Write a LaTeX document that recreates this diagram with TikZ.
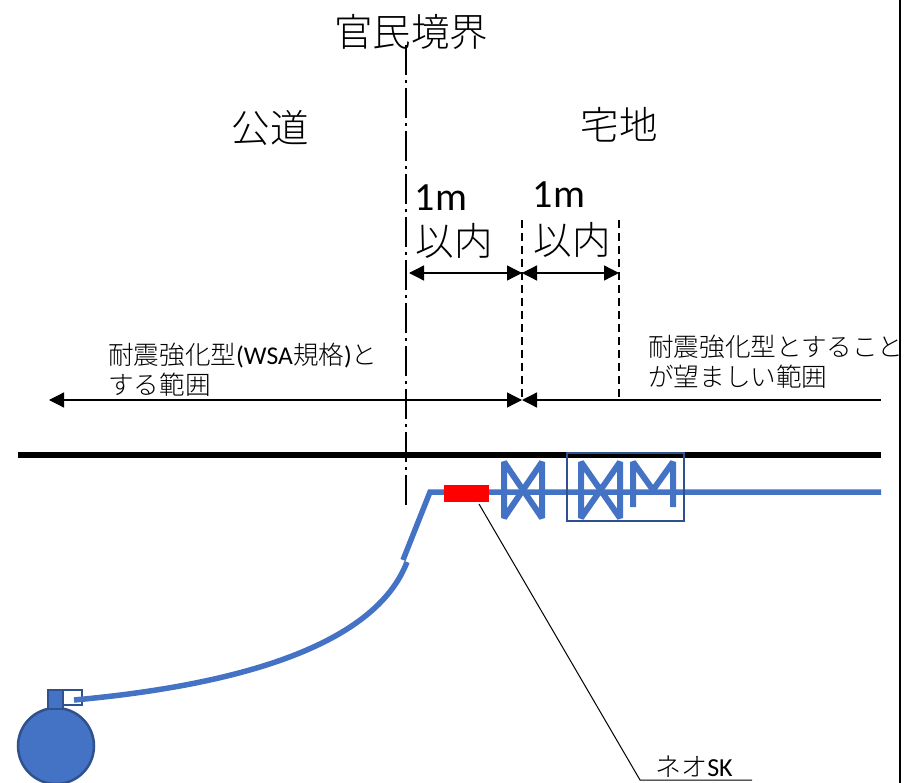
\documentclass[tikz,border=0pt]{standalone}
\usepackage{fontspec}
\setmainfont{Carlito}
\newfontfamily\jpfont[UprightFont={* Light}]{Noto Sans CJK JP}
\usetikzlibrary{arrows.meta}
\definecolor{pipeblue}{HTML}{4472C4}
\definecolor{edgeblue}{HTML}{2F528F}
\tikzset{
	bigtext/.style={font=\jpfont\fontsize{38.5}{42}\selectfont,inner sep=0pt},
	numtext/.style={font=\fontsize{40}{44}\selectfont,inner sep=0pt},
	smalltext/.style={font=\jpfont\fontsize{25.6}{30}\selectfont,inner sep=0pt,align=left,anchor=west},
	pipe/.style={draw=pipeblue,line width=5.5pt},
	valve/.style={draw=pipeblue,line width=6pt,line join=bevel},
	dim/.style={{Triangle[length=15pt,width=15pt]}-{Triangle[length=15pt,width=15pt]},line width=1.3pt},
	guide/.style={dash pattern=on 8pt off 5pt,line width=1.3pt}
}
\begin{document}
\begin{tikzpicture}[x=1pt,y=-1pt]
	\useasboundingbox (0,0) rectangle (904,783);
	\clip (0,0) rectangle (904,783);
	\node[bigtext] (border) at (411,32) {官民境界};
	\node[bigtext] (road) at (270,128) {公道};
	\node[bigtext] (site) at (619,125) {宅地};
	\node[numtext] (onea) at (441,198) {1m};
	\node[bigtext] (withina) at (454,241) {以内};
	\node[numtext] (oneb) at (559,195) {1m};
	\node[bigtext] (withinb) at (572,240) {以内};
	\node[smalltext] (wsa) at (108,370) {耐震強化型{\rmfamily (WSA}規格{\rmfamily )}と\\する範囲};
	\node[smalltext] (wish) at (648,362) {耐震強化型とすること\\が望ましい範囲};
	\node[inner sep=0pt,font=\jpfont\fontsize{26}{30}\selectfont] (neo) at (694,767) {ネオ{\rmfamily SK}};
	% reference lines
	\coordinate (ba) at (406,45);
	\coordinate (bb) at (406,507);
	\draw[line width=2.5pt,dash pattern=on 30pt off 5pt on 3pt off 5pt] (ba) -- (bb);
	\coordinate (ga) at (522,220);
	\coordinate (gb) at (522,400);
	\coordinate (gc) at (619,220);
	\coordinate (gd) at (619,400);
	\draw[guide] (ga) -- (gb);
	\draw[guide] (gc) -- (gd);
	\coordinate (da) at (409,273);
	\coordinate (db) at (522,273);
	\coordinate (dc) at (619,273);
	\draw[dim] (da) -- (db);
	\draw[dim] (db) -- (dc);
	\coordinate (ea) at (49,400);
	\coordinate (eb) at (522,400);
	\coordinate (ec) at (881,400);
	\draw[dim] (ea) -- (eb);
	\draw[{Triangle[length=15pt,width=15pt]}-,line width=1.3pt] (eb) -- (ec);
	\coordinate (wa) at (18,455);
	\coordinate (wb) at (881,455);
	\draw[line width=6pt] (wa) -- (wb);
	\coordinate (ra) at (900,0);
	\coordinate (rb) at (900,783);
	\draw[line width=2.5pt] (ra) -- (rb);
	% tank
	\node[draw=edgeblue,fill=pipeblue,line width=2.5pt,circle,minimum size=76pt,inner sep=0pt] (tank) at (56,746) {};
	\node[draw=edgeblue,fill=white,line width=2.5pt,minimum width=19pt,minimum height=15pt,inner sep=0pt] (cap) at (72.5,697.5) {};
	\node[draw=edgeblue,fill=pipeblue,line width=2.5pt,minimum width=15pt,minimum height=19pt,inner sep=0pt] (neck) at (55.5,699.5) {};
	% pipe
	\coordinate (pa) at (74,700);
	\coordinate (pb) at (407,562);
	\coordinate (pc) at (403,560);
	\coordinate (pd) at (430,492);
	\coordinate (pe) at (881,492);
	\draw[pipe] (pa) .. controls (240,685) and (375,645) .. (pb);
	\draw[pipe] (pc) -- (pd) -- (pe);
	\node[fill=red,minimum width=45pt,minimum height=17pt,inner sep=0pt] (neosk) at (466.5,493.5) {};
	% valves
	\draw[valve] (504,462) -- (504,518) -- (542,462) -- (542,518) -- (504,462) -- cycle;
	\draw[valve] (581,462) -- (581,518) -- (620,462) -- (620,518) -- (581,462) -- cycle;
	\draw[valve] (633,507) -- (633,462) -- (653,490) -- (673,462) -- (673,507);
	\node[draw=edgeblue,line width=2.5pt,minimum width=117pt,minimum height=68pt,inner sep=0pt] (box) at (625.5,487) {};
	% leader
	\coordinate (la) at (479,504);
	\coordinate (lb) at (640,780);
	\coordinate (lc) at (752,780);
	\draw[line width=1pt] (la) -- (lb) -- (lc);
\end{tikzpicture}
\end{document}
